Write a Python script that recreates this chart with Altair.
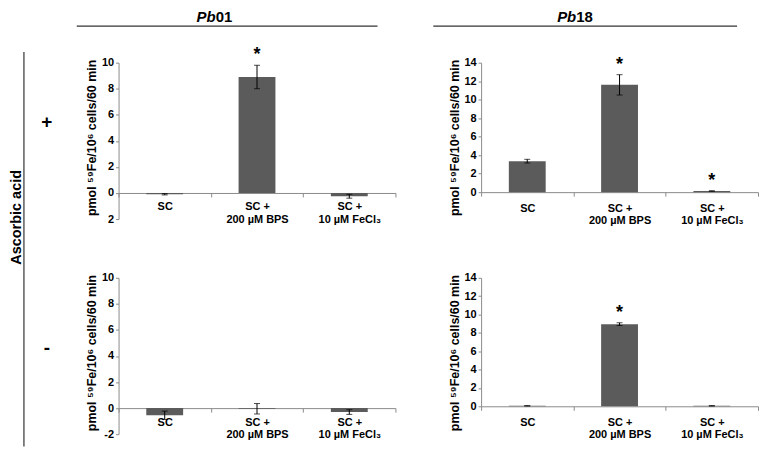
import altair as alt
import pandas as pd

categories = ["SC", "SC +|200 µM BPS", "SC +|10 µM FeCl₃"]

pb01_plus_values = [-0.1, 8.9, -0.25]
pb01_plus_errors = [0.05, 0.9, 0.15]
pb01_plus_stars = ["", "*", ""]

pb18_plus_values = [3.35, 11.6, 0.12]
pb18_plus_errors = [0.2, 1.1, 0.03]
pb18_plus_stars = ["", "*", "*"]

pb01_minus_values = [-0.55, -0.05, -0.3]
pb01_minus_errors = [0.32, 0.4, 0.18]
pb01_minus_stars = ["", "", ""]

pb18_minus_values = [0.05, 8.95, 0.05]
pb18_minus_errors = [0.02, 0.15, 0.02]
pb18_minus_stars = ["", "*", ""]

left_ticks = [-2, 0, 2, 4, 6, 8, 10]
right_ticks = [0, 2, 4, 6, 8, 10, 12, 14]
y_title = "pmol ⁵⁹Fe/10⁶ cells/60 min"

BAR = "#5b5b5b"
AXIS_GREY = "#8a8a8a"
FONT = "Liberation Sans"


def deco_text(text, x, y, size, weight="bold", style="normal", align="center", angle=0):
    return alt.Chart(pd.DataFrame({"d": [0]})).mark_text(
        text=text, fontSize=size, fontWeight=weight, fontStyle=style,
        align=align, baseline="middle", angle=angle, color="black", font=FONT
    ).encode(x=alt.value(x), y=alt.value(y))


def deco_hline(x1, x2, y):
    return alt.Chart(pd.DataFrame({"d": [0]})).mark_rule(
        color="#333333", strokeWidth=1.4
    ).encode(x=alt.value(x1), x2=alt.value(x2), y=alt.value(y))


def deco_vline(x, y1, y2):
    return alt.Chart(pd.DataFrame({"d": [0]})).mark_rule(
        color="#333333", strokeWidth=1.2
    ).encode(x=alt.value(x), y=alt.value(y1), y2=alt.value(y2))


def panel(values, errors, stars, ticks, width, height, label_pad, neg_label, decorations):
    df = pd.DataFrame({
        "cat": categories,
        "val": values,
        "lo": [v - e for v, e in zip(values, errors)],
        "hi": [v + e for v, e in zip(values, errors)],
        "star": stars,
    })
    lo_t, hi_t = ticks[0], ticks[-1]
    zero_offset = -(height * (0 - lo_t) / (hi_t - lo_t))
    yscale = alt.Scale(domain=[lo_t, hi_t], nice=False)
    xscale = alt.Scale(paddingInner=0, paddingOuter=0)
    label_expr = "datum.label"
    if lo_t < 0:
        label_expr = f"datum.value == {lo_t} ? '{neg_label}' : datum.label"
    x_axis = alt.Axis(
        title="", orient="bottom", offset=zero_offset, labelAngle=0,
        labelExpr="split(datum.label, '|')", labelFontSize=11,
        labelFontWeight="bold", labelColor="black", labelLineHeight=12.5,
        labelPadding=label_pad, tickBand="extent", tickSize=4,
        tickColor=AXIS_GREY, domainColor=AXIS_GREY, labelFont=FONT,
    )
    y_axis = alt.Axis(
        values=ticks, title=y_title, titleFontSize=12.5, titleFontWeight="bold",
        titleColor="black", titleFont=FONT, titleX=-27, titleY=75,
        titleAngle=270, titleAlign="center", titleBaseline="middle",
        labelFontSize=11, labelFontWeight="bold", labelColor="black",
        labelFont=FONT, labelExpr=label_expr, labelPadding=2,
        domainColor=AXIS_GREY, tickColor=AXIS_GREY, tickSize=3, grid=False,
    )
    base = alt.Chart(df)
    xenc = alt.X("cat:N", sort=categories, scale=xscale, axis=x_axis, title="")

    def yenc(field):
        return alt.Y(field, type="quantitative", scale=yscale, axis=y_axis, title=y_title)

    bars = base.mark_bar(color=BAR, size=37).encode(
        x=xenc, y=yenc("val"), y2=alt.datum(0),
    )
    rule = base.mark_rule(color="black", strokeWidth=1).encode(
        x=xenc, y=yenc("lo"), y2="hi:Q"
    )
    cap_lo = base.mark_tick(color="black", thickness=1, size=6).encode(
        x=xenc, y=yenc("lo")
    )
    cap_hi = base.mark_tick(color="black", thickness=1, size=6).encode(
        x=xenc, y=yenc("hi")
    )
    star = base.transform_filter("datum.star != ''").mark_text(
        fontSize=18, fontWeight="bold", baseline="middle", dy=-10, color="black", font=FONT
    ).encode(x=xenc, y=yenc("hi"), text="star:N")
    return alt.layer(bars, rule, cap_lo, cap_hi, star, *decorations).properties(
        width=width, height=height
    )


# reference positions (absolute) converted relative to each panel origin
TLX, TLY = 119, 60.7
TRX, TRY = 483, 60.7
BLX, BLY = 119, 276.7

tl_deco = [
    deco_text("Pb", 216.5 - TLX, 15 - TLY, 15, style="italic", align="right"),
    deco_text("01", 216.5 - TLX, 15 - TLY, 15, align="left"),
    deco_hline(77 - TLX, 379 - TLX, 24 - TLY),
    deco_text("Ascorbic acid", 17 - TLX, 216 - TLY, 14.5, angle=270),
    deco_vline(24 - TLX, 50 - TLY, 446 - TLY),
    deco_text("+", 47 - TLX, 120 - TLY, 19),
]
tr_deco = [
    deco_text("Pb", 578.5 - TRX, 15 - TRY, 15, style="italic", align="right"),
    deco_text("18", 578.5 - TRX, 15 - TRY, 15, align="left"),
    deco_hline(435 - TRX, 740 - TRX, 24 - TRY),
]
bl_deco = [
    deco_text("-", 47 - BLX, 347 - BLY, 19),
]

tl = panel(pb01_plus_values, pb01_plus_errors, pb01_plus_stars, left_ticks, 278, 157, 4, "2", tl_deco)
tr = panel(pb18_plus_values, pb18_plus_errors, pb18_plus_stars, right_ticks, 278, 130, 6, "", tr_deco)
bl = panel(pb01_minus_values, pb01_minus_errors, pb01_minus_stars, left_ticks, 278, 157, 4, "-2", bl_deco)
br = panel(pb18_minus_values, pb18_minus_errors, pb18_minus_stars, right_ticks, 278, 129, 6, "", [])

chart = alt.concat(
    tl, tr, bl, br, columns=2, bounds="flush",
    spacing={"row": 59, "column": 86},
).properties(padding=0).configure(font=FONT).configure_view(stroke="transparent")

chart.save("out.html", embed_options={"renderer": "svg", "actions": False})
